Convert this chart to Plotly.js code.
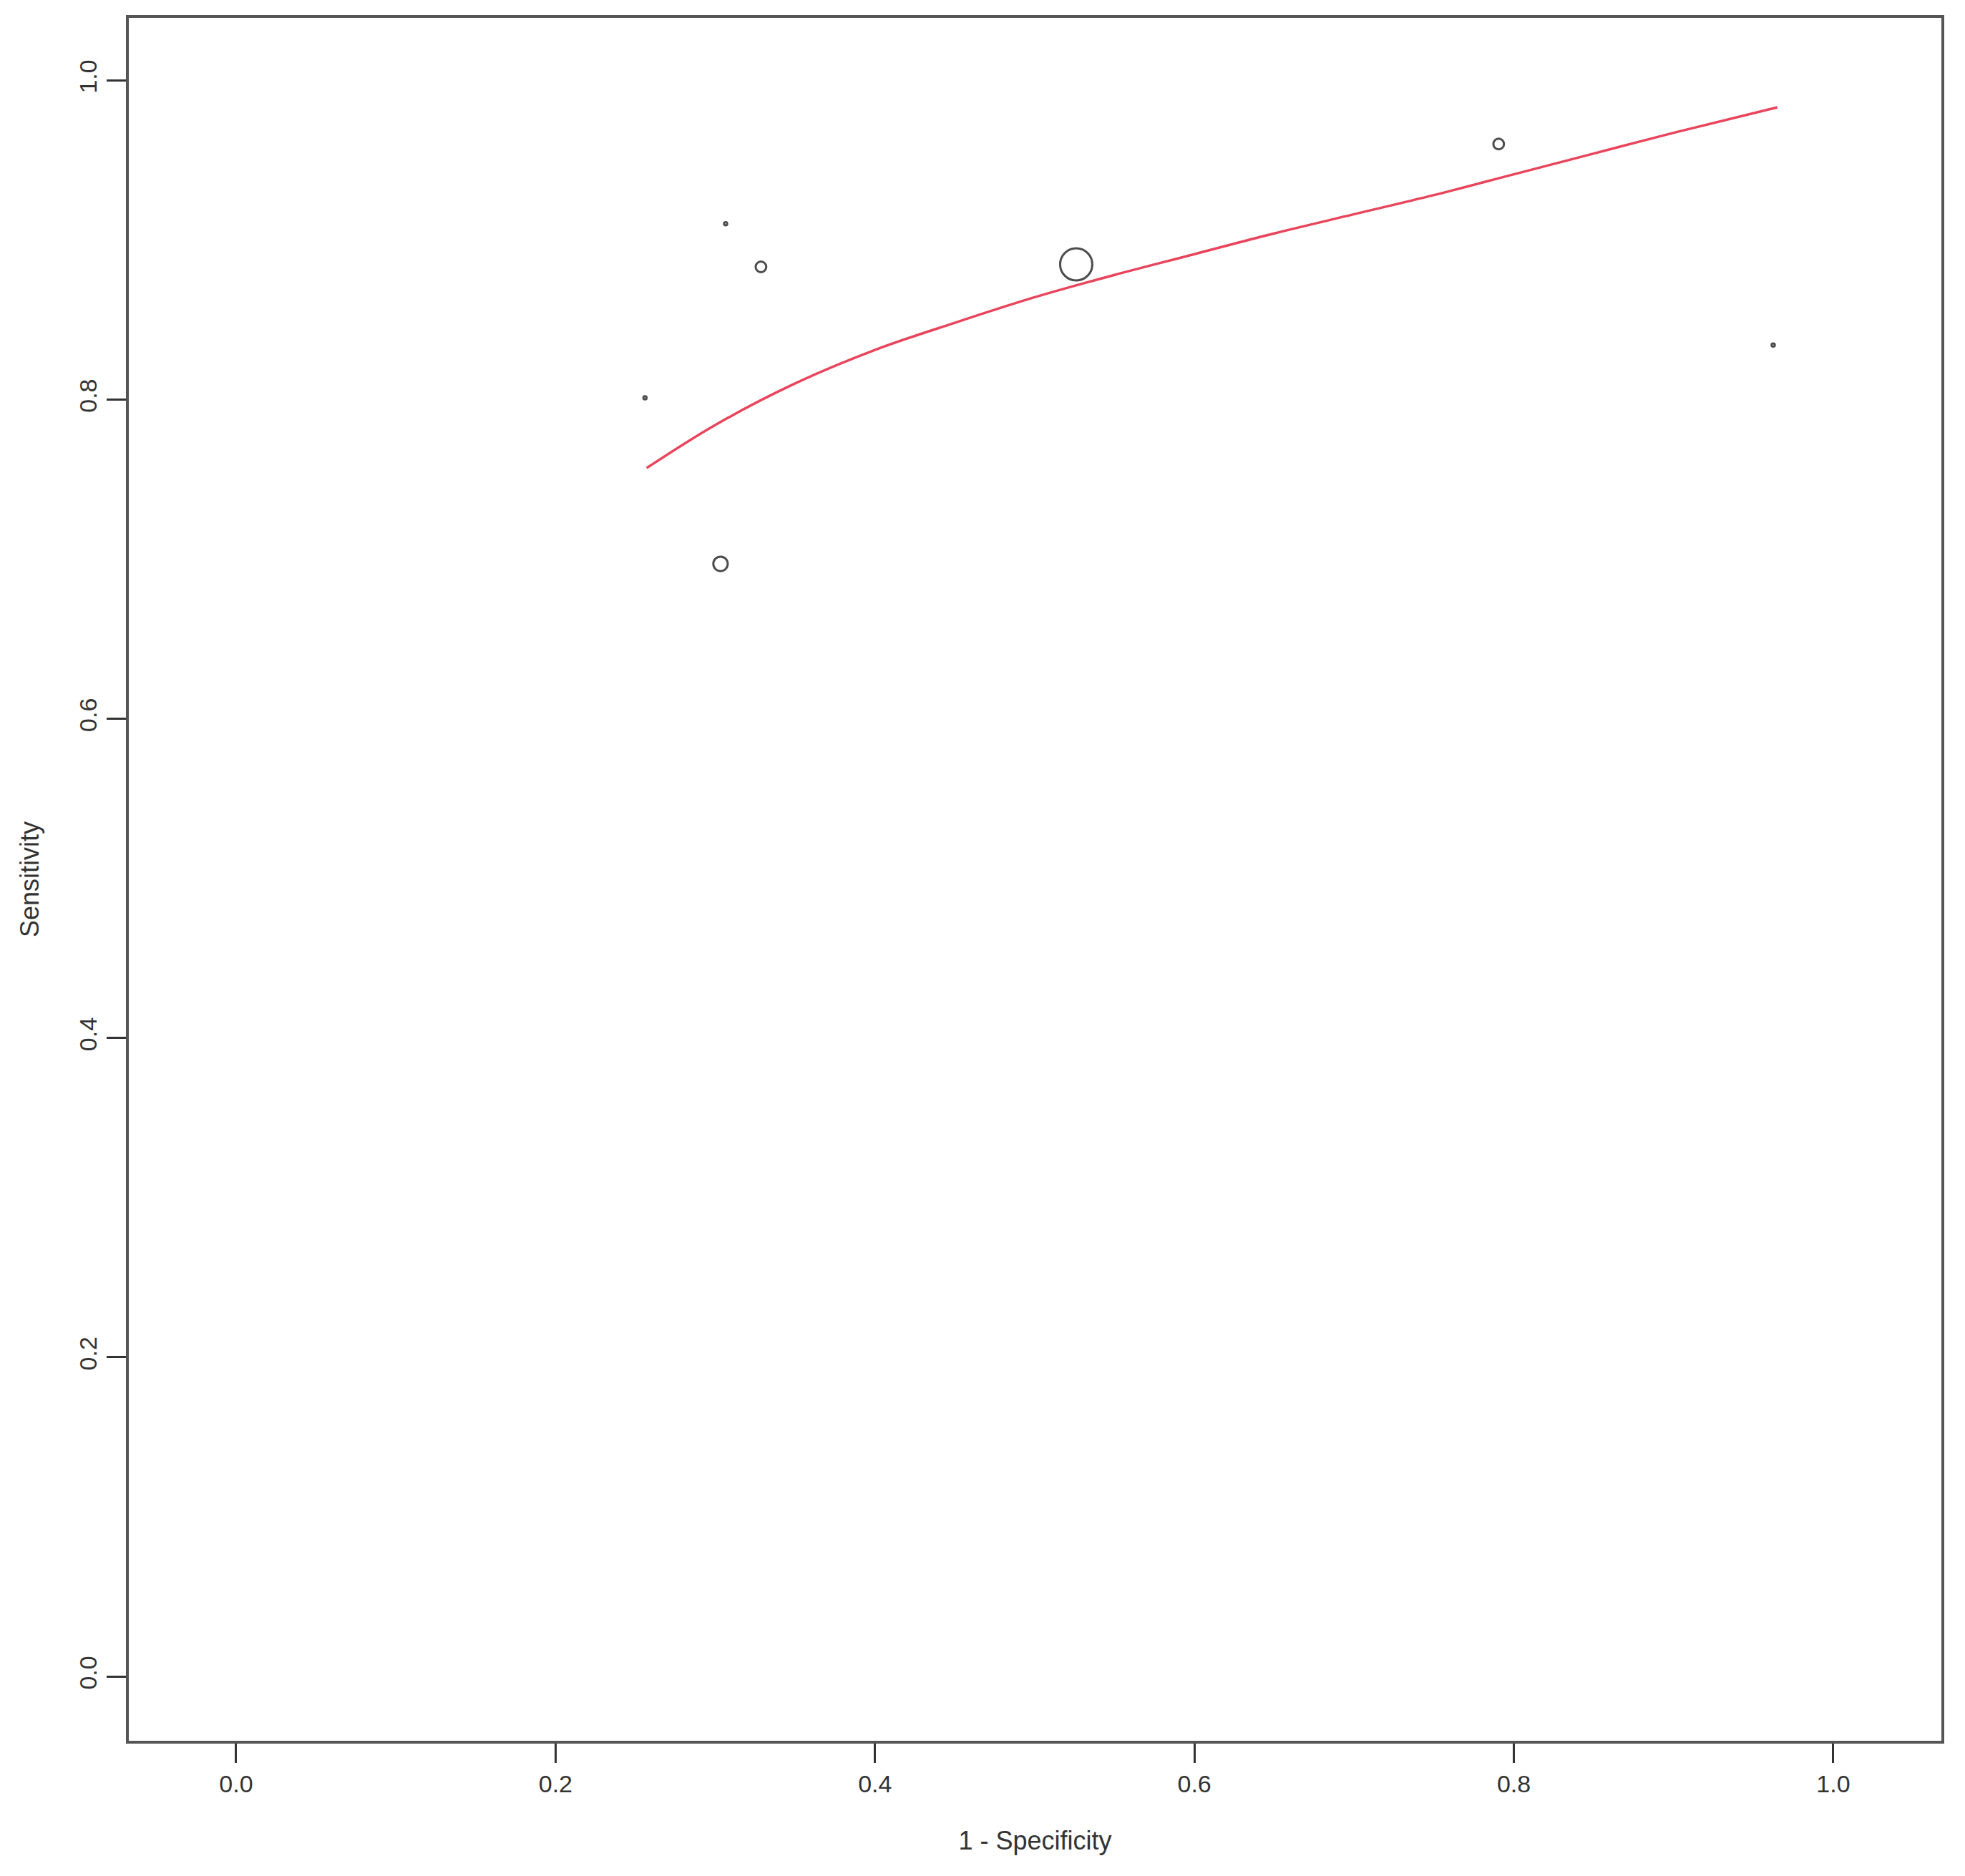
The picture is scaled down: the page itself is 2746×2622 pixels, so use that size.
<!DOCTYPE html>
<html>
<head>
<meta charset="utf-8">
<script src="https://cdn.plot.ly/plotly-3.0.1.min.js"></script>
<style>html,body{margin:0;padding:0;background:#fff;}#chart{width:2746px;height:2622px;}</style>
</head>
<body>
<div id="chart"></div>
<script>
// Study points (1 - specificity, sensitivity) and relative study weight
const fpr = [0.256, 0.3065, 0.3286, 0.3033, 0.526, 0.7905, 0.9624];
const sens = [0.801, 0.910, 0.883, 0.697, 0.8846, 0.960, 0.834];
const weight = [0.1, 0.1, 0.33, 0.45, 1.0, 0.33, 0.1];

// Summary ROC curve
const curveX = [0.257, 0.30, 0.35, 0.40, 0.45, 0.50, 0.55, 0.60, 0.65, 0.70, 0.75, 0.80, 0.85, 0.90, 0.965];
const curveY = [0.757, 0.784, 0.810, 0.831, 0.848, 0.864, 0.878, 0.891, 0.904, 0.916, 0.928, 0.941, 0.954, 0.967, 0.983];

const tickVals = [0.0, 0.2, 0.4, 0.6, 0.8, 1.0];
const tickText = ["0.0", "0.2", "0.4", "0.6", "0.8", "1.0"];

const FONT = "Liberation Sans, Arial, sans-serif";
const maxDiam = 45;

const traces = [
  {
    x: curveX, y: curveY, type: "scatter", mode: "lines",
    line: {color: "#e8455c", width: 3.5, shape: "spline", smoothing: 1},
    hoverinfo: "skip", showlegend: false
  },
  {
    x: fpr, y: sens, type: "scatter", mode: "markers",
    marker: {
      symbol: "circle-open",
      size: weight.map(w => Math.max(4, w * maxDiam)),
      color: "#000",
      line: {color: "#000", width: 3}
    },
    showlegend: false
  }
];

const axisCommon = {
  showgrid: false, zeroline: false,
  showline: true, mirror: true, linecolor: "#555", linewidth: 4,
  ticks: "outside", ticklen: 27, tickwidth: 3, tickcolor: "#333",
  tickmode: "array", tickvals: tickVals, ticktext: tickText,
  tickfont: {family: FONT, size: 34, color: "#333"}
};

const layout = {
  width: 2746, height: 2622,
  paper_bgcolor: "#fff", plot_bgcolor: "#fff",
  margin: {l: 180, r: 33, t: 25, b: 189},
  xaxis: Object.assign({}, axisCommon, {
    range: [-0.0672, 1.0677],
    title: {text: "1 - Specificity", font: {family: FONT, size: 36, color: "#333"}, standoff: 50}
  }),
  yaxis: Object.assign({}, axisCommon, {
    range: [-0.0403, 1.039],
    tickangle: -90,
    title: {text: "Sensitivity", font: {family: FONT, size: 36, color: "#333"}, standoff: 40}
  })
};

Plotly.newPlot("chart", traces, layout, {displayModeBar: false, staticPlot: true});
</script>
</body>
</html>
